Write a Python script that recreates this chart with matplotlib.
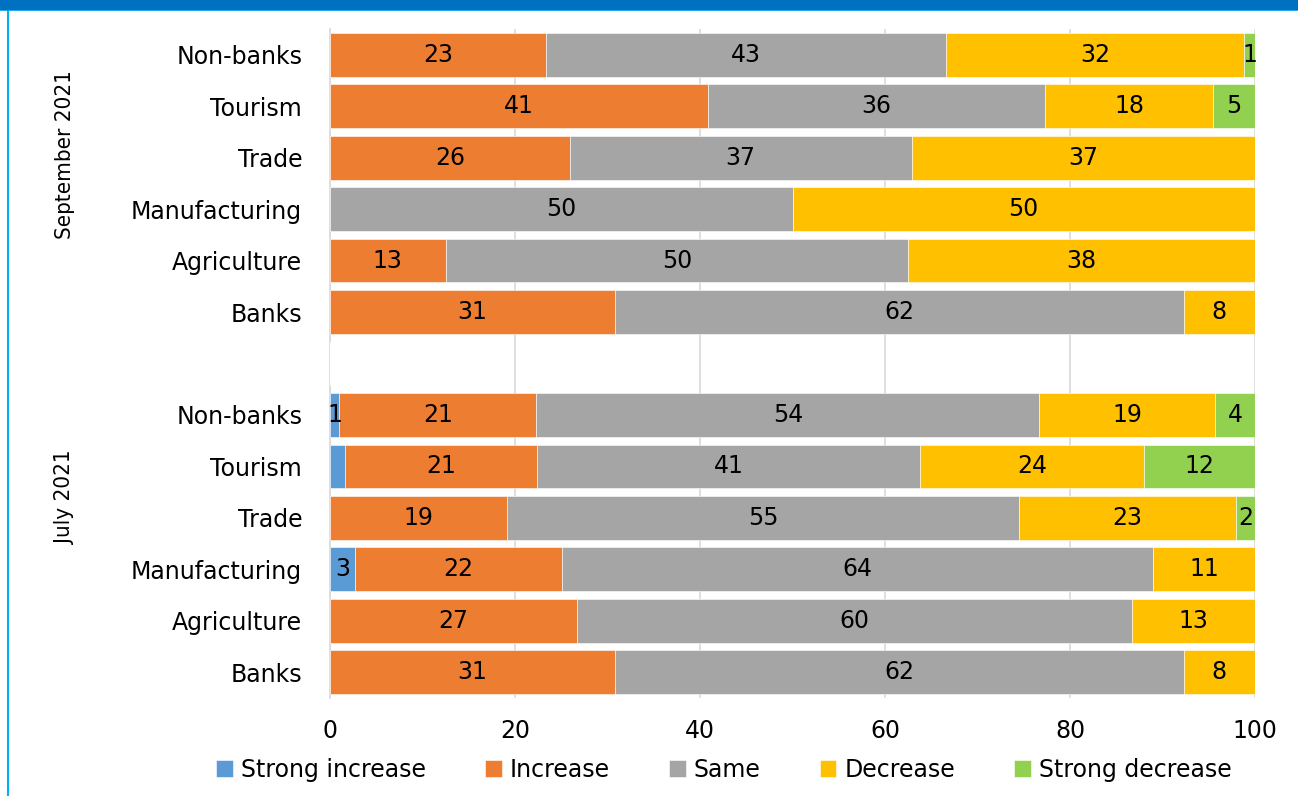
import math
import matplotlib.pyplot as plt
from matplotlib.patches import Rectangle
from matplotlib.lines import Line2D

plt.rcParams['font.family'] = ['DejaVu Sans']

# rows top to bottom, "" is the gap between the two surveys
rows = ["Non-banks", "Tourism", "Trade", "Manufacturing", "Agriculture", "Banks", "",
        "Non-banks", "Tourism", "Trade", "Manufacturing", "Agriculture", "Banks"]
groups = ["September 2021", "July 2021"]

series = ["Strong increase", "Increase", "Same", "Decrease", "Strong decrease"]
colors = ["#5B9BD5", "#ED7D31", "#A5A5A5", "#FFC000", "#92D050"]

strong_increase = [0, 0, 0, 0, 0, 0, 0, 1.0, 1.6, 0, 2.7, 0, 0]
increase = [23.4, 40.9, 25.9, 0, 12.5, 30.8, 0, 21.3, 20.8, 19.1, 22.4, 26.7, 30.8]
same = [43.2, 36.4, 37.0, 50.0, 50.0, 61.5, 0, 54.4, 41.4, 55.4, 63.9, 60.0, 61.5]
decrease = [32.2, 18.2, 37.1, 50.0, 37.5, 7.7, 0, 19.0, 24.2, 23.4, 11.0, 13.3, 7.7]
strong_decrease = [1.2, 4.5, 0, 0, 0, 0, 0, 4.3, 12.0, 2.1, 0, 0, 0]
values = [strong_increase, increase, same, decrease, strong_decrease]

# segments without a data label in the original (row, series)
hidden_labels = [(8, 0)]

FS = 17

fig = plt.figure(figsize=(12.98, 7.96), dpi=100)
ax = fig.add_axes([330 / 1298, 98 / 796, 925 / 1298, 669 / 796])

ypos = list(range(len(rows)))
left = [0.0] * len(rows)
for s, (name, vals, col) in enumerate(zip(series, values, colors)):
    ax.barh(ypos, vals, left=left, height=0.85, color=col, label=name,
            edgecolor="white", linewidth=0.4, zorder=3)
    for i, v in enumerate(vals):
        if v > 0 and (i, s) not in hidden_labels:
            # excel style rounding, halves go up
            ax.text(left[i] + v / 2, i, f"{math.floor(v + 0.5):d}", ha="center", va="center",
                    fontsize=FS, color="black", zorder=4)
    left = [l + v for l, v in zip(left, vals)]

ax.set_xlim(0, 100)
ax.set_ylim(len(rows) - 0.5, -0.5)
ax.set_xticks(range(0, 101, 20))
ax.set_yticks(ypos)
ax.set_yticklabels(rows)
ax.tick_params(axis="both", length=0, labelsize=FS)
ax.tick_params(axis="x", pad=15)
ax.tick_params(axis="y", pad=20)
ax.grid(axis="x", color="#D9D9D9", linewidth=1.2, zorder=0)
for side in ["top", "right", "bottom"]:
    ax.spines[side].set_visible(False)
ax.spines["left"].set_color("#D9D9D9")
ax.spines["left"].set_linewidth(1.2)

# rotated group labels, condensed face
fig.text(65 / 1298, 1 - 155 / 796, groups[0], rotation=90, ha="center", va="center",
         fontsize=16, family="DejaVu Sans", fontstretch="condensed")
fig.text(65 / 1298, 1 - 497 / 796, groups[1], rotation=90, ha="center", va="center",
         fontsize=16, family="DejaVu Sans", fontstretch="condensed")

fig.legend(loc="center", bbox_to_anchor=(724 / 1298, 1 - 770 / 796), ncol=5,
           frameon=False, fontsize=FS, handlelength=0.7, handleheight=0.7,
           handletextpad=0.35, columnspacing=2.5)

# frame decoration: blue band on top, thin line on the left
fig.patches.append(Rectangle((0, 1 - 9 / 796), 1, 9 / 796, transform=fig.transFigure,
                             color="#0070C0", zorder=10))
fig.lines.append(Line2D([0, 1], [1 - 10 / 796] * 2, transform=fig.transFigure,
                        color="#00B0F0", linewidth=1.2))
fig.lines.append(Line2D([8 / 1298] * 2, [0, 1 - 9 / 796], transform=fig.transFigure,
                        color="#00B0F0", linewidth=1.5))

fig.savefig("out.png", dpi=100)
